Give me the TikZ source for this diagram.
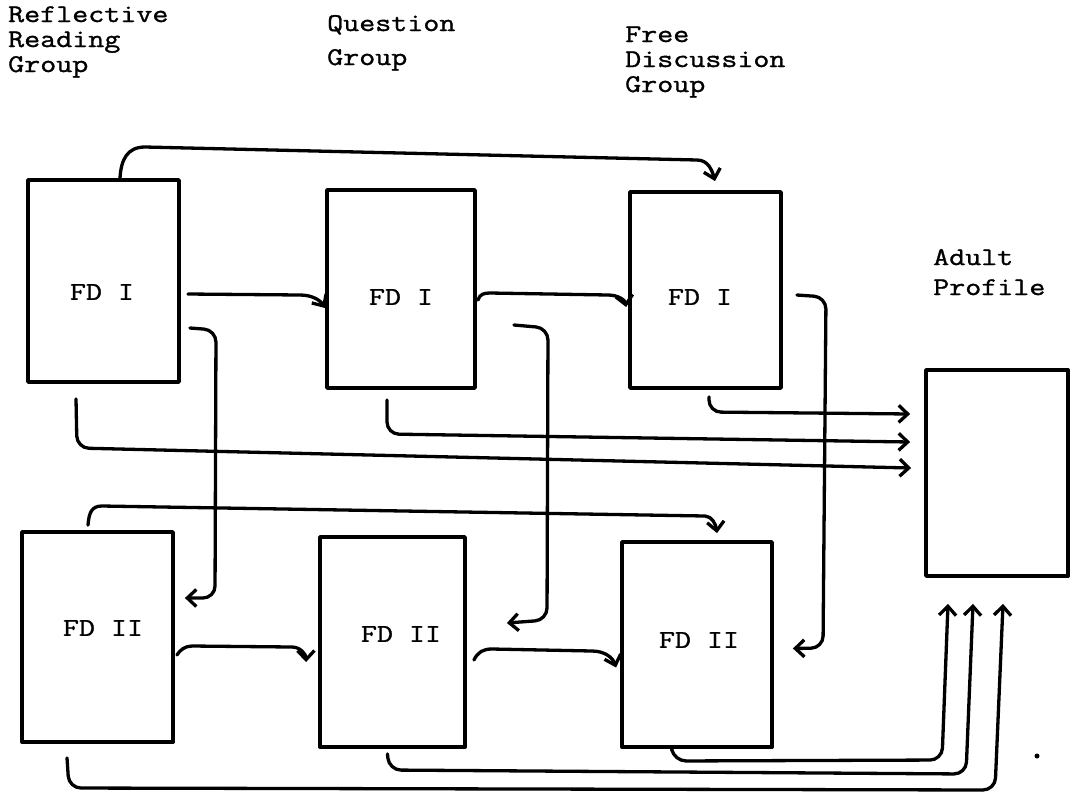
\documentclass[tikz,border=0pt]{standalone}
\usepackage{fontspec}
\newfontfamily\typewriter{Latin Modern Mono}[FakeStretch=1.22, FakeBold=1.2]
\usetikzlibrary{arrows.meta,calc}
\begin{document}
\begin{tikzpicture}[x=1pt,y=-1pt,
  box/.style={draw, line width=3.8pt, inner sep=0pt, line join=round},
  lbl/.style={font=\typewriter\fontsize{25.5}{27}\selectfont, inner sep=0pt},
  head/.style={font=\typewriter\fontsize{25.5}{27}\selectfont, inner sep=0pt, anchor=base west},
  conn/.style={line width=3.3pt, line cap=round, line join=round,
    -{Straight Barb[length=9pt,width=17pt]}},
  elbow/.style={conn, rounded corners=12pt}]

% canvas
\useasboundingbox (0,0) rectangle (1075,793);
\fill[white] (0,0) rectangle (1075,793);

% column headings
\node[head] (hr1) at (8,22) {Reflective};
\node[head] (hr2) at (8,47) {Reading};
\node[head] (hr3) at (8,72) {Group};
\node[head] (hq1) at (327,31) {Question};
\node[head] (hq2) at (327,65) {Group};
\node[head] (hf1) at (625,42) {Free};
\node[head] (hf2) at (625,67) {Discussion};
\node[head] (hf3) at (625,92) {Group};
\node[head] (ha1) at (933,265) {Adult};
\node[head] (ha2) at (933,295) {Profile};

% boxes, upper row
\node[box, minimum width=151, minimum height=202] (r1) at (103.5,281) {};
\node[box, minimum width=148, minimum height=198] (q1) at (401,289) {};
\node[box, minimum width=151, minimum height=196] (f1) at (705.5,290) {};
% boxes, lower row
\node[box, minimum width=151, minimum height=210] (r2) at (97.5,637) {};
\node[box, minimum width=145, minimum height=210] (q2) at (392.5,642) {};
\node[box, minimum width=150, minimum height=205] (f2) at (697,644.5) {};
% adult profile
\node[box, minimum width=142, minimum height=206] (ap) at (997,473) {};

% box labels
\node[lbl] (r1t) at (102,292) {FD I};
\node[lbl] (q1t) at (401,297) {FD I};
\node[lbl] (f1t) at (700,297) {FD I};
\node[lbl] (r2t) at (103,628) {FD II};
\node[lbl] (q2t) at (401,634) {FD II};
\node[lbl] (f2t) at (699,640) {FD II};

% upper row: arc over the top, FD I -> FD I
\draw[conn] ($(r1.north)+(16.5,0)$) .. controls (121,160) and (127,147) .. (145,147)
  -- (697,160) .. controls (708,160) and (712,170) .. ($(f1.north)+(9.5,-9)$);
\draw[conn] ($(r1.east)+(7,13)$) -- (300,295) .. controls (312,295) and (320,300) .. ($(q1.west)+(0,19)$);
\draw[conn] ($(q1.east)+(1,11)$) .. controls (480,294) and (484,293) .. (490,293)
  -- (608,295) .. controls (618,295) and (625,300) .. ($(f1.west)+(-2,17)$);

% upper row down to lower row
\draw[elbow] ($(r1.east)+(9,47)$) -- (216,330) -- (215,598) -- ($(r2.east)+(10,-39)$);
\draw[elbow] ($(q1.east)+(37,36)$) -- (548,328) -- (547,620) -- ($(q2.east)+(40,-19)$);
\draw[elbow] ($(f1.east)+(14,5)$) -- (826,297) -- (823,648) -- ($(f2.east)+(19,4)$);

% upper row to adult profile
\draw[elbow] ($(f1.south)+(3.5,7)$) -- (709,412) -- ($(ap.west)+(-14,-59)$);
\draw[elbow] ($(q1.south)+(-14,10)$) -- (387,434) -- ($(ap.west)+(-14,-31)$);
\draw[elbow] ($(r1.south)+(-27.5,15)$) -- (77,448) -- ($(ap.west)+(-13,-5)$);

% lower row: arc over the top, FD II -> FD II
\draw[conn] ($(r2.north)+(-9.5,-5)$) .. controls (89,512) and (92,506) .. (102,506)
  -- (705,516) .. controls (712,516) and (716,525) .. ($(f2.north)+(20,-7)$);
\draw[conn] ($(r2.east)+(2,18)$) .. controls (180,650) and (185,646) .. (192,646)
  -- (292,647) .. controls (300,647) and (306,654) .. ($(q2.west)+(-12,20)$);
\draw[conn] ($(q2.east)+(7,18)$) .. controls (478,652) and (483,649) .. (492,649)
  -- (592,651) .. controls (605,651) and (613,658) .. ($(f2.west)+(-4,23)$);

% lower row to adult profile
\draw[elbow] ($(f2.south)+(-25,2)$) -- (674,761) -- (942,760) -- ($(ap.south)+(-49,26)$);
\draw[elbow] ($(q2.south)+(-5,5)$) -- (389,770) -- (966,774) -- ($(ap.south)+(-24,26)$);
\draw[elbow] ($(r2.south)+(-30.5,14)$) -- (69,788) -- (995,790) -- ($(ap.south)+(6,26)$);

% stray mark
\fill (1037,756) circle (2.5);
\end{tikzpicture}
\end{document}
